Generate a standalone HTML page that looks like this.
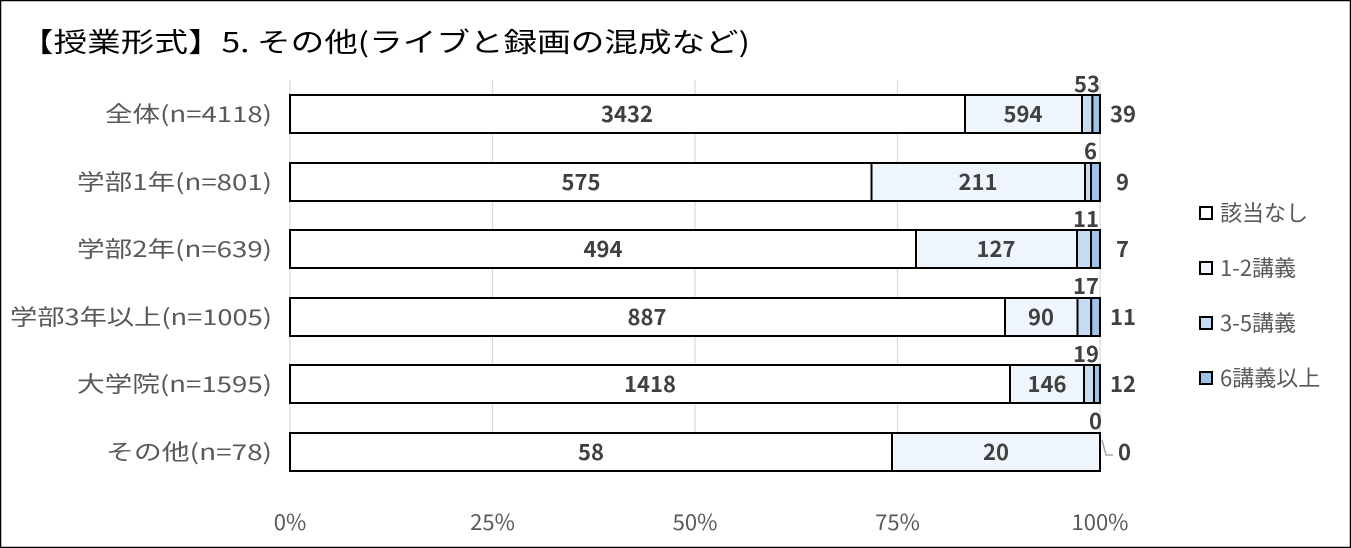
<!DOCTYPE html>
<html><head><meta charset="utf-8"><style>
body{margin:0;background:#fff}
svg{display:block;font-family:"Noto Sans CJK JP","Liberation Sans",sans-serif}
</style></head><body>
<svg width="1351" height="548" viewBox="0 0 1351 548">
<rect x="0.5" y="0.5" width="1350" height="547" fill="#fff" stroke="#000" stroke-width="1.5"/>
<text x="20" y="52" font-size="27" fill="#000" textLength="730" lengthAdjust="spacingAndGlyphs">【授業形式】5. その他(ライブと録画の混成など)</text>
<g stroke="#d9d9d9" stroke-width="1.2">
<line x1="290" y1="80" x2="290" y2="470"/><line x1="492.5" y1="80" x2="492.5" y2="470"/><line x1="695" y1="80" x2="695" y2="470"/><line x1="897.5" y1="80" x2="897.5" y2="470"/><line x1="1100" y1="80" x2="1100" y2="470"/>
</g>
<g font-size="22" fill="#595959" text-anchor="middle">
<text x="290" y="530">0%</text><text x="492.5" y="530">25%</text><text x="695" y="530">50%</text><text x="897.5" y="530">75%</text><text x="1100" y="530">100%</text>
</g>
<g font-size="22" fill="#595959">
<text x="105" y="122" textLength="167" lengthAdjust="spacingAndGlyphs">全体(n=4118)</text>
<text x="77" y="190" textLength="195" lengthAdjust="spacingAndGlyphs">学部1年(n=801)</text>
<text x="77" y="257" textLength="195" lengthAdjust="spacingAndGlyphs">学部2年(n=639)</text>
<text x="10" y="325" textLength="262" lengthAdjust="spacingAndGlyphs">学部3年以上(n=1005)</text>
<text x="77" y="392" textLength="195" lengthAdjust="spacingAndGlyphs">大学院(n=1595)</text>
<text x="106" y="460" textLength="166" lengthAdjust="spacingAndGlyphs">その他(n=78)</text>
</g>
<g stroke="#000" stroke-width="2">
<rect x="290" y="95" width="675" height="38" fill="#fff"/><rect x="965" y="95" width="117" height="38" fill="#eef5fc"/><rect x="1082" y="95" width="10.4" height="38" fill="#c5dcf2"/><rect x="1092.4" y="95" width="7.6" height="38" fill="#9dc3e6"/>
<rect x="290" y="163" width="581.5" height="38" fill="#fff"/><rect x="871.5" y="163" width="213.5" height="38" fill="#eef5fc"/><rect x="1085" y="163" width="6" height="38" fill="#c5dcf2"/><rect x="1091" y="163" width="9" height="38" fill="#9dc3e6"/>
<rect x="290" y="230" width="626" height="38" fill="#fff"/><rect x="916" y="230" width="161" height="38" fill="#eef5fc"/><rect x="1077" y="230" width="14" height="38" fill="#c5dcf2"/><rect x="1091" y="230" width="9" height="38" fill="#9dc3e6"/>
<rect x="290" y="298" width="715" height="38" fill="#fff"/><rect x="1005" y="298" width="72.5" height="38" fill="#eef5fc"/><rect x="1077.5" y="298" width="13.7" height="38" fill="#c5dcf2"/><rect x="1091.2" y="298" width="8.8" height="38" fill="#9dc3e6"/>
<rect x="290" y="365" width="720" height="38" fill="#fff"/><rect x="1010" y="365" width="74" height="38" fill="#eef5fc"/><rect x="1084" y="365" width="10" height="38" fill="#c5dcf2"/><rect x="1094" y="365" width="6" height="38" fill="#9dc3e6"/>
<rect x="290" y="433" width="602" height="38" fill="#fff"/><rect x="892" y="433" width="208" height="38" fill="#eef5fc"/>
</g>
<polyline points="1102,440 1106,455 1113,455" fill="none" stroke="#a6a6a6" stroke-width="1.5"/>
<g font-size="22" font-weight="bold" fill="#404040" text-anchor="middle">
<text x="627" y="122">3432</text><text x="1023" y="122">594</text>
<text x="581" y="190">575</text><text x="978" y="190">211</text>
<text x="603" y="257">494</text><text x="996" y="257">127</text>
<text x="647" y="325">887</text><text x="1041" y="325">90</text>
<text x="650" y="392">1418</text><text x="1047" y="392">146</text>
<text x="591" y="460">58</text><text x="996" y="460">20</text>
</g>
<g font-size="22" font-weight="bold" fill="#404040" text-anchor="end">
<text x="1100" y="92">53</text><text x="1097" y="159">6</text><text x="1099" y="227">11</text><text x="1099" y="294">17</text><text x="1099" y="362">19</text><text x="1102" y="429">0</text>
</g>
<g font-size="22" font-weight="bold" fill="#404040">
<text x="1110" y="122">39</text><text x="1116" y="190">9</text><text x="1116" y="257">7</text><text x="1110" y="325">11</text><text x="1110" y="392">12</text><text x="1118" y="460">0</text>
</g>
<g stroke="#000" stroke-width="2">
<rect x="1200" y="207" width="12" height="12" fill="#fff"/>
<rect x="1200" y="262" width="12" height="12" fill="#eef5fc"/>
<rect x="1200" y="317" width="12" height="12" fill="#c5dcf2"/>
<rect x="1200" y="372" width="12" height="12" fill="#9dc3e6"/>
</g>
<g font-size="22" fill="#595959">
<text x="1220" y="221">該当なし</text>
<text x="1220" y="276">1-2講義</text>
<text x="1220" y="331">3-5講義</text>
<text x="1220" y="386">6講義以上</text>
</g>
</svg>
</body></html>
